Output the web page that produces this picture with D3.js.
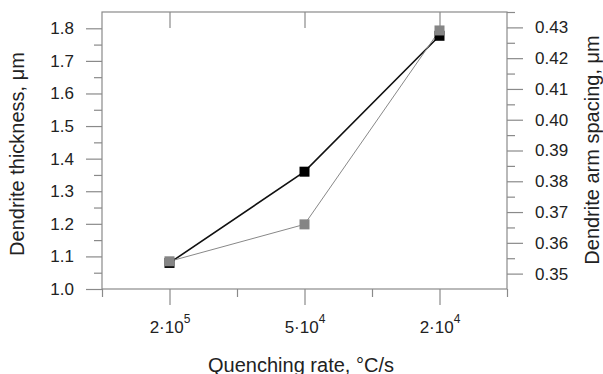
<!DOCTYPE html>
<html>
<head>
<meta charset="utf-8">
<script src="https://cdn.jsdelivr.net/npm/d3@7"></script>
<style>
  html, body { margin: 0; padding: 0; background: #fff; }
  svg { display: block; }
  text { font-family: "Liberation Sans", Arial, sans-serif; fill: #222; }
</style>
</head>
<body>
<svg id="chart" width="603" height="374"></svg>
<script>
// ---- data ----
const categories = [1, 2, 3];                       // positions on x
const xBase = ["2·10", "5·10", "2·10"];              // tick label base
const xExp = ["5", "4", "4"];                        // tick label exponent
const thickness = [1.08, 1.36, 1.777];               // Dendrite thickness, µm (left axis, black)
const spacing = [0.354, 0.366, 0.429];               // Dendrite arm spacing, µm (right axis, gray)
const leftTicks = [1.0, 1.1, 1.2, 1.3, 1.4, 1.5, 1.6, 1.7, 1.8];
const rightTicks = [0.35, 0.36, 0.37, 0.38, 0.39, 0.40, 0.41, 0.42, 0.43];
const xTitle = "Quenching rate, °C/s";
const yLeftTitle = "Dendrite thickness, μm";
const yRightTitle = "Dendrite arm spacing, μm";

// ---- layout ----
const L = 102, R = 507, T = 12, B = 289;
const svg = d3.select("#chart");

const x = d3.scaleLinear().domain([0.5, 3.5]).range([L, R]);
const yL = d3.scaleLinear().domain([1.0, 1.85]).range([B, T]);
const yR = d3.scaleLinear().domain([0.345, 0.435]).range([B, T]);

const axisColor = "#8a8a8a";
const tickFont = "17px";
function styleAxis(g) {
  g.select(".domain").remove();
  g.selectAll(".tick line").attr("stroke", axisColor).attr("stroke-width", 1.2);
  g.selectAll(".tick text").style("font-size", tickFont).attr("fill", "#222");
}

// minor ticks
const xMinor = [0.5, 1.5, 2.5, 3.5];
svg.append("g").attr("transform", `translate(0,${B})`)
  .call(d3.axisBottom(x).tickValues(xMinor).tickSize(8).tickFormat(""))
  .call(styleAxis);
const leftMinor = d3.range(0, 8).map(i => 1.05 + i * 0.1);
svg.append("g").attr("transform", `translate(${L},0)`)
  .call(d3.axisLeft(yL).tickValues(leftMinor).tickSize(8).tickFormat(""))
  .call(styleAxis);
const rightMinor = d3.range(0, 9).map(i => 0.355 + i * 0.01);
svg.append("g").attr("transform", `translate(${R},0)`)
  .call(d3.axisRight(yR).tickValues(rightMinor).tickSize(8).tickFormat(""))
  .call(styleAxis);

// major ticks
const gx = svg.append("g").attr("transform", `translate(0,${B})`)
  .call(d3.axisBottom(x).tickValues(categories).tickSize(16).tickFormat(""))
  .call(styleAxis);
gx.selectAll(".tick").each(function(d, i) {
  const t = d3.select(this).append("text")
    .attr("y", 44).attr("text-anchor", "middle")
    .style("font-size", tickFont).attr("fill", "#222");
  t.append("tspan").text(xBase[i]);
  t.append("tspan").attr("dy", -10).style("font-size", "12px").text(xExp[i]);
});

svg.append("g").attr("transform", `translate(0,${T})`)
  .call(d3.axisTop(x).tickValues(categories).tickSize(-16).tickFormat(""))
  .call(styleAxis);

svg.append("g").attr("transform", `translate(${L},0)`)
  .call(d3.axisLeft(yL).tickValues(leftTicks).tickSize(16).tickPadding(12).tickFormat(d3.format(".1f")))
  .call(styleAxis);

svg.append("g").attr("transform", `translate(${R},0)`)
  .call(d3.axisRight(yR).tickValues(rightTicks).tickSize(16).tickPadding(12).tickFormat(d3.format(".2f")))
  .call(styleAxis);

// frame
svg.append("rect").attr("x", L).attr("y", T).attr("width", R - L).attr("height", B - T)
  .attr("fill", "none").attr("stroke", axisColor).attr("stroke-width", 1.2);

// lines
const lineL = d3.line().x((d, i) => x(categories[i])).y(d => yL(d));
const lineR = d3.line().x((d, i) => x(categories[i])).y(d => yR(d));

svg.append("path").datum(thickness).attr("d", lineL)
  .attr("fill", "none").attr("stroke", "#111").attr("stroke-width", 1.6);
svg.append("path").datum(spacing).attr("d", lineR)
  .attr("fill", "none").attr("stroke", "#888").attr("stroke-width", 1);

const S = 10;
svg.append("g").selectAll("rect").data(thickness).join("rect")
  .attr("x", (d, i) => x(categories[i]) - S / 2).attr("y", d => yL(d) - S / 2)
  .attr("width", S).attr("height", S).attr("fill", "#000");
svg.append("g").selectAll("rect").data(spacing).join("rect")
  .attr("x", (d, i) => x(categories[i]) - S / 2).attr("y", d => yR(d) - S / 2)
  .attr("width", S).attr("height", S).attr("fill", "#858585");

// titles
svg.append("text").attr("x", 301).attr("y", 371.5).attr("text-anchor", "middle")
  .style("font-size", "20px").text(xTitle);
svg.append("text").attr("transform", `translate(24,154) rotate(-90)`).attr("text-anchor", "middle")
  .style("font-size", "20px").text(yLeftTitle);
svg.append("text").attr("transform", `translate(599,150) rotate(-90)`).attr("text-anchor", "middle")
  .style("font-size", "20px").text(yRightTitle);
</script>
</body>
</html>
